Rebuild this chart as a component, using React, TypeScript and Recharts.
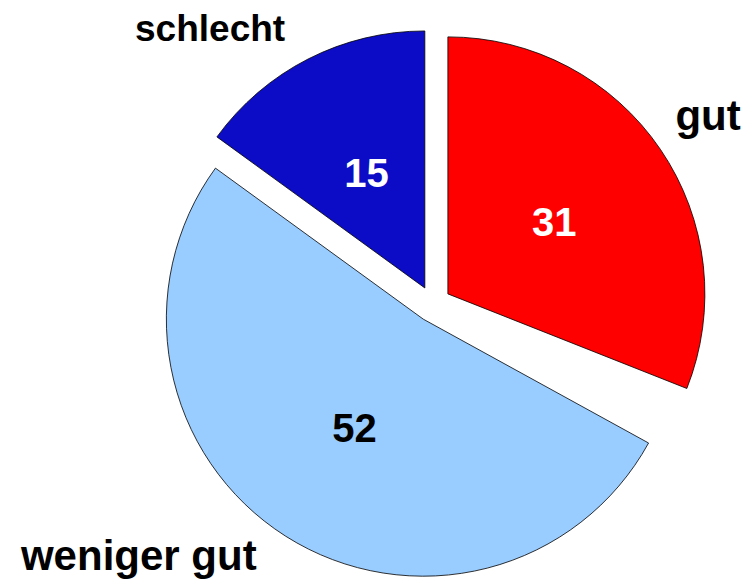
import * as React from "react"
import { PieChart, Pie, Cell } from "recharts"

// slice data, clockwise from 12 o'clock (the 2 % remainder is left blank)
const names = ["gut", "keine Angabe", "weniger gut", "schlecht"]
const values = [31, 2, 52, 15]
const colors = ["#ff0000", "none", "#99ccff", "#0c0cc6"]
const numberColors = ["#ffffff", "none", "#000000", "#ffffff"]
const visible = [true, false, true, true]

const data = names.map((name, i) => ({ name, value: values[i] }))

const CX = 433
const CY = 304
const RADIUS = 257
const EXPLODE = 18
const FONT = "'Liberation Sans', Arial, Helvetica, sans-serif"

// outside label placement relative to rim point at the slice's mid angle
const labelPlacement: Record<string, { dx: number; dy: number; anchor: "start" | "end"; size: number }> = {
  "gut": { dx: 15, dy: -19, anchor: "start", size: 42 },
  "weniger gut": { dx: -29, dy: 34, anchor: "end", size: 42 },
  "schlecht": { dx: -23, dy: -18, anchor: "end", size: 37 },
}

const total = values.reduce((a, b) => a + b, 0)

/** mid angle (recharts convention, degrees ccw from 3 o'clock) of slice i */
function midAngleOf(i: number): number {
  const before = values.slice(0, i).reduce((a, b) => a + b, 0)
  return 90 - ((before + values[i] / 2) / total) * 360
}

function makeLabel(idx: number) {
  return (props: any) => {
    if (props.index !== idx) return null
    const rad = (Math.PI / 180) * props.midAngle
    const cos = Math.cos(rad)
    const sin = -Math.sin(rad)
    const r = props.outerRadius
    const ix = props.cx + r * 0.5 * cos
    const iy = props.cy + r * 0.5 * sin
    const place = labelPlacement[props.name]
    const ox = props.cx + r * cos + place.dx
    const oy = props.cy + r * sin + place.dy
    return (
      <g>
        <text
          x={ix}
          y={iy}
          fill={numberColors[idx]}
          textAnchor="middle"
          dominantBaseline="central"
          fontFamily={FONT}
          fontWeight="bold"
          fontSize={40}
        >
          {props.value}
        </text>
        <text
          x={ox}
          y={oy}
          fill="#000000"
          textAnchor={place.anchor}
          fontFamily={FONT}
          fontWeight="bold"
          fontSize={place.size}
        >
          {props.name}
        </text>
      </g>
    )
  }
}

export default function App() {
  return (
    <div style={{ position: "absolute", left: 0, top: 0, width: 747, height: 581, background: "#ffffff" }}>
      <PieChart width={747} height={581} margin={{ top: 0, right: 0, bottom: 0, left: 0 }}>
        {names.map((name, i) => {
          if (!visible[i]) return null
          const rad = (Math.PI / 180) * midAngleOf(i)
          return (
            <Pie
              key={name}
              data={data}
              dataKey="value"
              nameKey="name"
              cx={CX + EXPLODE * Math.cos(rad)}
              cy={CY - EXPLODE * Math.sin(rad)}
              outerRadius={RADIUS}
              innerRadius={0}
              startAngle={90}
              endAngle={-270}
              label={makeLabel(i)}
              labelLine={false}
              isAnimationActive={false}
            >
              {data.map((d, j) => (
                <Cell
                  key={d.name}
                  fill={j === i ? colors[j] : "none"}
                  stroke={j === i ? "#000000" : "none"}
                  strokeWidth={0.8}
                />
              ))}
            </Pie>
          )
        })}
      </PieChart>
    </div>
  )
}
